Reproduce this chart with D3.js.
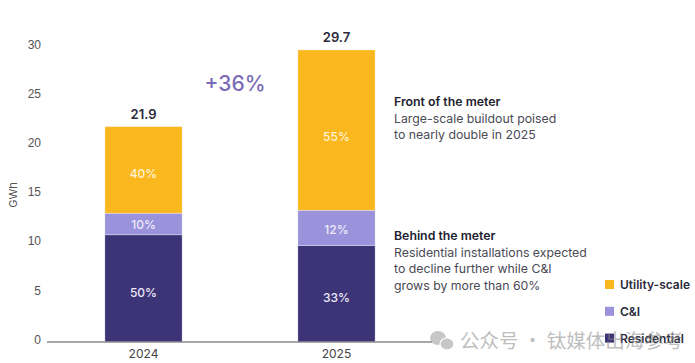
<!DOCTYPE html>
<html>
<head>
<meta charset="utf-8">
<script src="https://cdn.jsdelivr.net/npm/d3@7"></script>
<style>
  body { margin: 0; background: #fff; }
  svg { font-family: Inter, "Noto Sans", sans-serif; }
  .tick text { fill: #555; font-size: 12px; }
  .ann { font-size: 12.3px; fill: #4a4a55; }
  .ann-title { font-size: 12.3px; font-weight: 600; fill: #222230; }
  .legend-text { font-size: 12px; font-weight: 600; fill: #2a2a3a; }
</style>
</head>
<body>
<div id="chart"></div>
<script>
// data (GWh)
var years = ["2024", "2025"];
var residential = [10.9, 9.8];
var ci = [2.2, 3.6];
var utility = [8.8, 16.3];
var totals = [21.9, 29.7];
var shareResidential = ["50%", "33%"];
var shareCI = ["10%", "12%"];
var shareUtility = ["40%", "55%"];
var yTicks = [0, 5, 10, 15, 20, 25, 30];
var growthLabel = "+36%";

var colors = { utility: "#FBB71E", ci: "#9A92DA", residential: "#3D3477" };

var width = 695, height = 363;

var svg = d3.select("#chart")
  .append("svg")
    .attr("width", width)
    .attr("height", height);

// build stacked rows
var rows = years.map((y, i) => ({
  year: y,
  residential: residential[i],
  ci: ci[i],
  utility: utility[i]
}));
var keys = ["residential", "ci", "utility"];
var shares = { residential: shareResidential, ci: shareCI, utility: shareUtility };
var stacked = d3.stack().keys(keys)(rows);

var x = d3.scaleBand()
  .domain(years)
  .range([47, 433])
  .paddingInner(0.6)
  .paddingOuter(0.3);

var y = d3.scaleLinear()
  .domain([0, 30])
  .range([342, 47]);

// Y axis (labels only)
var yAxis = svg.append("g")
  .attr("transform", "translate(41,0)")
  .call(d3.axisLeft(y).tickValues(yTicks).tickSize(0).tickPadding(0));
yAxis.select(".domain").remove();
yAxis.selectAll("text").attr("dy", "0.1em");

// y axis title
svg.append("text")
  .attr("transform", "translate(17,195) rotate(-90)")
  .style("text-anchor", "middle")
  .attr("font-size", "11px")
  .attr("fill", "#555")
  .text("GWh");

// bars
svg.append("g")
  .selectAll("g")
  .data(stacked)
  .enter()
    .append("g")
    .attr("fill", d => colors[d.key])
    .selectAll("rect")
    .data(d => d)
    .enter()
      .append("rect")
      .attr("x", d => x(d.data.year))
      .attr("y", d => y(d[1]))
      .attr("height", d => y(d[0]) - y(d[1]))
      .attr("width", x.bandwidth())
      .attr("stroke", "#fff")
      .attr("stroke-opacity", 0.5)
      .attr("stroke-width", 0.6);

// share labels inside the bars (a touch below the segment middle)
stacked.forEach(function (s) {
  svg.append("g")
    .selectAll("text")
    .data(s)
    .enter()
      .append("text")
      .attr("x", d => x(d.data.year) + x.bandwidth() / 2)
      .attr("y", d => y(d[0] + (d[1] - d[0]) * 0.46))
      .attr("dy", "0.35em")
      .style("text-anchor", "middle")
      .attr("font-size", "12px")
      .attr("font-weight", 500)
      .attr("fill", s.key === "utility" ? "#FFF3D6" : "#EEEAFB")
      .text((d, i) => shares[s.key][i]);
});

// totals above bars
svg.append("g")
  .selectAll("text")
  .data(years)
  .enter()
    .append("text")
    .attr("x", d => x(d) + x.bandwidth() / 2)
    .attr("y", (d, i) => y(totals[i]) - 8)
    .style("text-anchor", "middle")
    .attr("font-size", "13px")
    .attr("font-weight", 600)
    .attr("fill", "#2a2a3a")
    .text((d, i) => totals[i].toFixed(1));

// growth label
svg.append("text")
  .attr("x", (x(years[0]) + x(years[1]) + x.bandwidth()) / 2 - 5)
  .attr("y", 91)
  .style("text-anchor", "middle")
  .attr("font-size", "21px")
  .attr("font-weight", 500)
  .attr("fill", "#7A6BB6")
  .text(growthLabel);

// baseline
svg.append("line")
  .attr("x1", 47)
  .attr("x2", 432)
  .attr("y1", y(0))
  .attr("y2", y(0))
  .attr("stroke", "#8a8a8a")
  .attr("stroke-width", 1.5);

// year labels
svg.append("g")
  .selectAll("text")
  .data(years)
  .enter()
    .append("text")
    .attr("x", d => x(d) + x.bandwidth() / 2)
    .attr("y", 358)
    .style("text-anchor", "middle")
    .attr("font-size", "12px")
    .attr("fill", "#444")
    .text(d => d);

// annotations
function annotate(top, title, lines) {
  svg.append("text")
    .attr("class", "ann-title")
    .attr("x", 394)
    .attr("y", top)
    .text(title);
  lines.forEach(function (l, i) {
    svg.append("text")
      .attr("class", "ann")
      .attr("x", 394)
      .attr("y", top + 16.5 * (i + 1))
      .text(l);
  });
}
annotate(106, "Front of the meter",
  ["Large-scale buildout poised", "to nearly double in 2025"]);
annotate(240, "Behind the meter",
  ["Residential installations expected", "to decline further while C&I", "grows by more than 60%"]);

// legend
var legendItems = [
  { key: "utility", label: "Utility-scale" },
  { key: "ci", label: "C&I" },
  { key: "residential", label: "Residential" }
];
var legend = svg.append("g")
  .selectAll("g")
  .data(legendItems)
  .enter()
    .append("g")
    .attr("transform", (d, i) => "translate(605," + (285 + i * 26.8) + ")");
legend.append("rect")
  .attr("x", 0)
  .attr("y", -5)
  .attr("width", 9)
  .attr("height", 9)
  .attr("fill", d => colors[d.key]);
legend.append("text")
  .attr("class", "legend-text")
  .attr("x", 15)
  .attr("dy", "0.35em")
  .text(d => d.label);

// watermark
var wm = svg.append("g").attr("opacity", 0.55);
wm.append("ellipse")
  .attr("cx", 438).attr("cy", 338).attr("rx", 8).attr("ry", 7)
  .attr("fill", "#9a9a9a");
wm.append("ellipse")
  .attr("cx", 447).attr("cy", 344).attr("rx", 7).attr("ry", 6)
  .attr("fill", "#9a9a9a").attr("stroke", "#fff").attr("stroke-width", 1.2);
wm.append("text")
  .attr("x", 460)
  .attr("y", 348)
  .attr("font-family", "'Noto Sans CJK SC', sans-serif")
  .attr("font-size", "19.5px")
  .attr("fill", "#8a8a8a")
  .text("公众号 · 钛媒体出海参考");
</script>
</body>
</html>
